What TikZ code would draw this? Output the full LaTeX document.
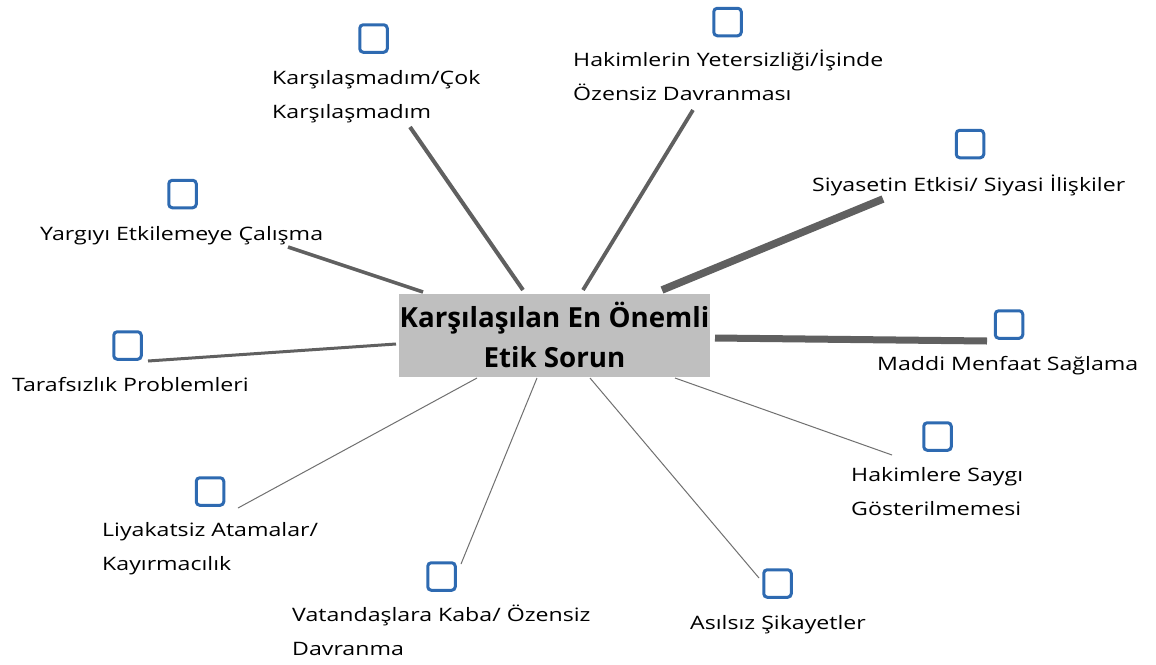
\documentclass[tikz,border=0pt]{standalone}
\usepackage{fontspec}
\setmainfont{Open Sans}
\newfontfamily\lblfont{Open Sans}[FakeStretch=1.25]
\definecolor{chkblue}{HTML}{2E6AB1}
\definecolor{linkgray}{HTML}{606060}
\definecolor{thingray}{HTML}{707070}
\definecolor{boxgray}{HTML}{BFBFBF}
\begin{document}
\begin{tikzpicture}[x=1pt,y=-1pt,
  chk/.style={draw=chkblue, line width=3pt, rounded corners=3.5pt, minimum size=27.5pt, inner sep=0pt},
  lbl/.style={font=\lblfont\fontsize{18.5}{34}\selectfont, anchor=base west, inner sep=0pt, align=left},
  link/.style={draw=linkgray, line cap=butt},
  thin/.style={draw=thingray, line width=1pt}]
\useasboundingbox (0,0) rectangle (1156,664);
\fill[white] (0,0) rectangle (1156,664);

% central box
\node[fill=boxgray, minimum width=311pt, minimum height=83pt, inner sep=0pt] (center) at (554.5,335.5) {};
\node[font=\bfseries\fontsize{27.7}{40}\selectfont, align=center, anchor=base, inner sep=0pt] (ctext) at (554.5,367) {Karşılaşılan En Önemli\\Etik Sorun};

% check boxes
\node[chk] (q1) at (373.5,38.5) {};
\node[chk] (q2) at (727.5,22) {};
\node[chk] (q3) at (970,144) {};
\node[chk] (q4) at (1009,324.5) {};
\node[chk] (q5) at (937.5,436.5) {};
\node[chk] (q6) at (777.5,583.5) {};
\node[chk] (q7) at (441.5,576.5) {};
\node[chk] (q8) at (210,491.5) {};
\node[chk] (q9) at (127.5,345.5) {};
\node[chk] (q10) at (182.5,194) {};

% labels (two-line labels are anchored at the baseline of their last line)
\node[lbl] (t1) at (272,118) {Karşılaşmadım/Çok\\Karşılaşmadım};
\node[lbl] (t2) at (573,100) {Hakimlerin Yetersizliği/İşinde\\Özensiz Davranması};
\node[lbl] (t3) at (812,191) {Siyasetin Etkisi/ Siyasi İlişkiler};
\node[lbl] (t4) at (877,370) {Maddi Menfaat Sağlama};
\node[lbl] (t5) at (851,515) {Hakimlere Saygı\\Gösterilmemesi};
\node[lbl] (t6) at (690,629) {Asılsız Şikayetler};
\node[lbl] (t7) at (292,655) {Vatandaşlara Kaba/ Özensiz\\Davranma};
\node[lbl] (t8) at (102,570) {Liyakatsiz Atamalar/\\Kayırmacılık};
\node[lbl] (t9) at (12,391) {Tarafsızlık Problemleri};
\node[lbl] (t10) at (40,240) {Yargıyı Etkilemeye Çalışma};

% connector end points
\coordinate (s1) at (523,290);  \coordinate (e1) at (410,127);
\coordinate (s2) at (583,290);  \coordinate (e2) at (693,110);
\coordinate (s3) at (662,290);  \coordinate (e3) at (883,199);
\coordinate (s4) at (715,338);  \coordinate (e4) at (987,341);
\coordinate (s5) at (675,378);  \coordinate (e5) at (892,455);
\coordinate (s6) at (590,378);  \coordinate (e6) at (759,578);
\coordinate (s7) at (537,378);  \coordinate (e7) at (461,564);
\coordinate (s8) at (477,378);  \coordinate (e8) at (238,508);
\coordinate (s9) at (396,344);  \coordinate (e9) at (148,361);
\coordinate (s10) at (423,292); \coordinate (e10) at (288,247);

\draw[link, line width=4pt] (s1) -- (e1);
\draw[link, line width=3.8pt] (s2) -- (e2);
\draw[link, line width=7.5pt] (s3) -- (e3);
\draw[link, line width=7pt] (s4) -- (e4);
\draw[thin] (s5) -- (e5);
\draw[thin] (s6) -- (e6);
\draw[thin] (s7) -- (e7);
\draw[thin] (s8) -- (e8);
\draw[link, line width=3pt] (s9) -- (e9);
\draw[link, line width=3.5pt] (s10) -- (e10);
\end{tikzpicture}
\end{document}
